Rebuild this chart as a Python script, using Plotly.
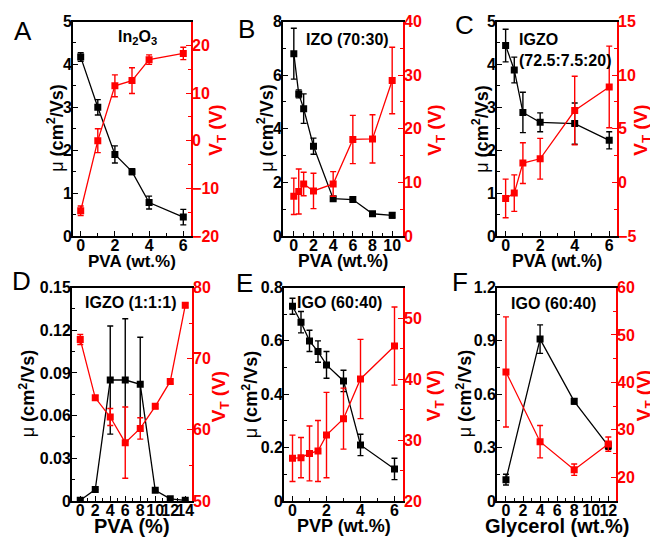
import plotly.graph_objects as go

OFF = 8  # browser body margin
W, H = 658 - OFF, 538 - OFF
FONT = "Liberation Sans"
RED = "rgb(255,0,0)"

# ---------------- data ----------------
A_x = [0, 1, 2, 3, 4, 6]
A_mu = [4.17, 3.0, 1.9, 1.5, 0.78, 0.44]
A_mu_err = [0.1, 0.18, 0.2, 0.07, 0.15, 0.18]
A_vt = [-14.7, 0.0, 11.5, 12.6, 17.0, 18.3]
A_vt_err = [1.0, 2.5, 2.3, 2.7, 1.0, 1.3]

B_x = [0, 0.5, 1, 2, 4, 6, 8, 10]
B_mu = [6.8, 5.3, 4.75, 3.35, 1.39, 1.36, 0.83, 0.77]
B_mu_err = [0.95, 0.15, 0.55, 0.3, 0.05, 0.05, 0.05, 0.1]
B_vt = [7.4, 8.3, 9.7, 8.4, 9.7, 18.0, 18.1, 29.0]
B_vt_err = [3.4, 4.2, 2.2, 3.3, 2.3, 4.5, 4.5, 6.2]

C_x = [0, 0.5, 1, 2, 4, 6]
C_mu = [4.44, 3.87, 2.88, 2.65, 2.62, 2.23]
C_mu_err = [0.38, 0.3, 0.47, 0.22, 0.48, 0.2]
C_vt = [-1.5, -1.0, 1.8, 2.2, 6.7, 8.9]
C_vt_err = [1.8, 1.7, 1.9, 1.9, 3.2, 3.8]

D_x = [0, 2, 4, 6, 8, 10, 12, 14]
D_mu = [0.0005, 0.008, 0.085, 0.085, 0.082, 0.0075, 0.0015, 0.0005]
D_mu_err = [0, 0, 0.038, 0.043, 0.033, 0, 0, 0]
D_vt = [72.7, 64.5, 61.8, 58.2, 60.2, 63.3, 66.8, 77.5]
D_vt_err = [0.7, 0.3, 1.2, 5.0, 1.5, 0.3, 0.3, 0.3]

E_x = [0, 0.5, 1, 1.5, 2, 3, 4, 6]
E_mu = [0.73, 0.67, 0.60, 0.56, 0.51, 0.45, 0.21, 0.12]
E_mu_err = [0.03, 0.04, 0.04, 0.04, 0.05, 0.04, 0.04, 0.04]
E_vt = [27.0, 27.1, 27.8, 28.2, 30.8, 33.5, 40.0, 45.4]
E_vt_err = [3.8, 3.3, 4.5, 5.0, 7.0, 5.0, 6.5, 6.4]

F_x = [0, 4, 8, 12]
F_mu = [0.12, 0.91, 0.56, 0.31]
F_mu_err = [0.03, 0.08, 0.015, 0.02]
F_vt = [42.2, 27.5, 21.6, 27.0]
F_vt_err = [11.6, 3.4, 1.2, 1.5]

x_titles = ["PVA (wt.%)", "PVA (wt.%)", "PVA (wt.%)", "PVA (%)", "PVP (wt.%)", "Glycerol (wt.%)"]
panel_letters = ["A", "B", "C", "D", "E", "F"]
panel_labels = ["In<sub>2</sub>O<sub>3</sub>", "IZO (70:30)", "IGZO<br>(72.5:7.5:20)",
                "IGZO (1:1:1)", "IGO (60:40)", "IGO (60:40)"]

panels = [
    (A_x, A_mu, A_mu_err, A_vt, A_vt_err),
    (B_x, B_mu, B_mu_err, B_vt, B_vt_err),
    (C_x, C_mu, C_mu_err, C_vt, C_vt_err),
    (D_x, D_mu, D_mu_err, D_vt, D_vt_err),
    (E_x, E_mu, E_mu_err, E_vt, E_vt_err),
    (F_x, F_mu, F_mu_err, F_vt, F_vt_err),
]

# ---------------- layout geometry (window pixels) ----------------
geom = [  # left, right, top, bottom
    (73, 191, 21.5, 236), (283, 403, 21.5, 236), (497, 617, 21.5, 236),
    (72, 192, 287.5, 501), (284, 403, 287.5, 501), (497, 616, 287.5, 501),
]
x_ranges = [[-0.45, 6.45], [-1.1, 11.1], [-0.5, 6.45], [-1.1, 14.9], [-0.5, 6.5], [-1.05, 12.9]]
x_dtick = [2, 2, 2, 2, 2, 2]
yl_ranges = [[0, 5], [0, 8], [0, 5], [0, 0.15], [0, 0.8], [0, 1.2]]
yl_dtick = [1, 2, 1, 0.03, 0.2, 0.3]
yr_ranges = [[-20, 25], [0, 40], [-5, 15], [50, 80], [20, 55], [15, 60]]
yr_dtick = [10, 10, 5, 10, 10, 10]
xt_size = [17, 17.5, 17.5, 20, 18, 20]
left_title_x = [56, 266, 481, 27, 250, 464]
right_title_x = [217, 436, 642, 220, 435, 645]

def fx(p):
    return (p - OFF) / W

def fy(p):
    return 1 - (p - OFF) / H

fig = go.Figure()
layout = {}
annotations = []

for i, (g, data) in enumerate(zip(geom, panels)):
    k = i + 1
    xs, mu, mue, vt, vte = data
    xa = "x" if k == 1 else f"x{k}"
    yl = "y" if k == 1 else f"y{k}"
    yr = f"y{k + 6}"
    fig.add_trace(go.Scatter(
        x=xs, y=mu, xaxis=xa, yaxis=yl, mode="lines+markers",
        line=dict(color="black", width=1.3),
        marker=dict(symbol="square", size=7, color="black"),
        error_y=dict(type="data", array=mue, color="black", thickness=1.4, width=3),
        showlegend=False))
    fig.add_trace(go.Scatter(
        x=xs, y=vt, xaxis=xa, yaxis=yr, mode="lines+markers",
        line=dict(color=RED, width=1.3),
        marker=dict(symbol="square", size=7, color=RED),
        error_y=dict(type="data", array=vte, color=RED, thickness=1.4, width=3),
        showlegend=False))

    l, r, t, b = g
    xkey = "xaxis" if k == 1 else f"xaxis{k}"
    ylkey = "yaxis" if k == 1 else f"yaxis{k}"
    yrkey = f"yaxis{k + 6}"
    tickfont = dict(family=FONT, size=16, color="black", weight="bold")
    layout[xkey] = dict(
        domain=[fx(l), fx(r)], anchor=yl, range=x_ranges[i], dtick=x_dtick[i], tick0=0,
        showline=True, linecolor="black", linewidth=1.8, mirror=True, automargin=False,
        ticks="inside", ticklen=5, tickwidth=1.4, tickcolor="black", tickangle=0,
        ticklabelstandoff=-6,
        minor=dict(ticks="inside", ticklen=3, dtick=x_dtick[i] / 2, tickcolor="black", tickwidth=1.2),
        showgrid=False, zeroline=False, tickfont=tickfont)
    layout[ylkey] = dict(
        domain=[fy(b), fy(t)], anchor=xa, range=yl_ranges[i], dtick=yl_dtick[i], tick0=0,
        showline=True, linecolor="black", linewidth=1.8, automargin=False,
        ticks="inside", ticklen=5, tickwidth=1.4, tickcolor="black",
        ticklabelstandoff=-4,
        minor=dict(ticks="inside", ticklen=3, dtick=yl_dtick[i] / 2, tickcolor="black", tickwidth=1.2),
        showgrid=False, zeroline=False, tickfont=tickfont)
    layout[yrkey] = dict(
        overlaying=yl, side="right", anchor=xa, range=yr_ranges[i], dtick=yr_dtick[i], tick0=0,
        showline=True, linecolor=RED, linewidth=1.8, automargin=False,
        ticks="inside", ticklen=5, tickwidth=1.4, tickcolor=RED,
        ticklabelstandoff=-4,
        minor=dict(ticks="inside", ticklen=3, dtick=yr_dtick[i] / 2, tickcolor=RED, tickwidth=1.2),
        showgrid=False, zeroline=False,
        tickfont=dict(family=FONT, size=16, color=RED, weight="bold"))

    # x-axis title
    annotations.append(dict(
        x=fx((l + r) / 2), y=fy(b + 25), xref="paper", yref="paper",
        text=f"<b>{x_titles[i]}</b>", showarrow=False, xanchor="center", yanchor="middle",
        font=dict(family=FONT, size=xt_size[i], color="black")))
    # left y title
    annotations.append(dict(
        x=fx(left_title_x[i]), y=fy((t + b) / 2), xref="paper", yref="paper",
        text="μ <b>(cm<sup>2</sup>/Vs)</b>", textangle=-90, showarrow=False,
        xanchor="center", yanchor="middle",
        font=dict(family=FONT, size=18, color="black")))
    # right y title
    annotations.append(dict(
        x=fx(right_title_x[i]), y=fy((t + b) / 2 + 2), xref="paper", yref="paper",
        text="<b>V<sub>T</sub> (V)</b>", textangle=-90, showarrow=False,
        xanchor="center", yanchor="middle",
        font=dict(family=FONT, size=19, color=RED)))

# panel letters
letter_pos = [(23, 31), (246, 29), (464, 25), (21, 281), (244, 283), (460, 282)]
for (px, py), lt in zip(letter_pos, panel_letters):
    annotations.append(dict(
        x=fx(px), y=fy(py), xref="paper", yref="paper", text=lt, showarrow=False,
        xanchor="center", yanchor="middle",
        font=dict(family=FONT, size=26, color="black")))

# panel sample labels
label_pos = [(137, 38, "center"), (347, 40, "center"), (517, 50, "left"),
             (131, 302, "center"), (339, 302, "center"), (553, 303, "center")]
for (px, py, anc), txt in zip(label_pos, panel_labels):
    annotations.append(dict(
        x=fx(px), y=fy(py), xref="paper", yref="paper", text=f"<b>{txt}</b>",
        showarrow=False, xanchor=anc, yanchor="middle", align="left",
        font=dict(family=FONT, size=16, color="black")))

fig.update_layout(
    width=W, height=H, margin=dict(l=0, r=0, t=0, b=0, autoexpand=False),
    paper_bgcolor="white", plot_bgcolor="white",
    annotations=annotations, showlegend=False,
    font=dict(family=FONT),
    **layout)

fig.write_html("out.html")
